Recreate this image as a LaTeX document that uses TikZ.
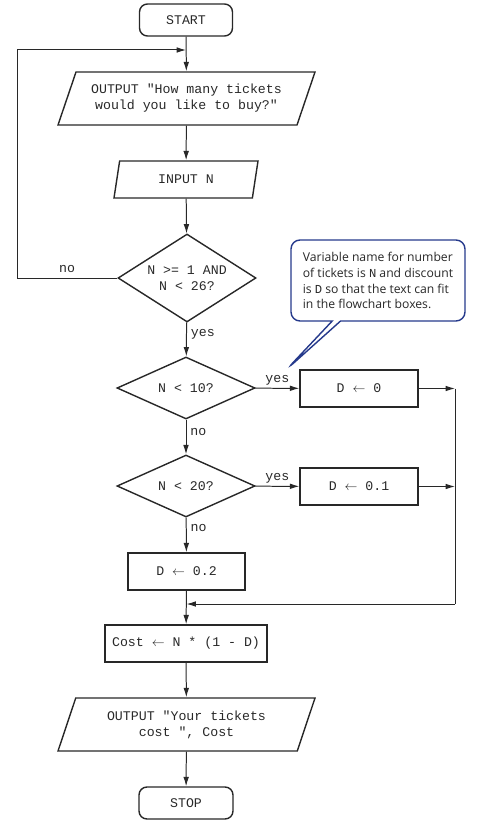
\documentclass[tikz,border=0pt]{standalone}
\usepackage{fontspec}
\setmonofont{Liberation Mono}
\newfontfamily\notefont{Open Sans}
\usetikzlibrary{shapes.geometric,shapes.callouts,arrows.meta}
\definecolor{ink}{RGB}{40,40,40}
\definecolor{noteblue}{RGB}{38,58,140}
\tikzset{
	every node/.style={font=\fontsize{11.3}{13.6}\selectfont\ttfamily, text=ink},
	terminal/.style={draw=ink, line width=1.2pt, rectangle, rounded corners=0.24cm, inner sep=0pt},
	process/.style={draw=ink, line width=1.2pt, rectangle, inner sep=0pt, minimum height=1.11cm},
	io/.style={draw=ink, line width=1.2pt, trapezium, trapezium left angle=57.5, trapezium right angle=122.5,
		trapezium stretches body, inner sep=0pt, align=center},
	decision/.style={draw=ink, line width=1.2pt, diamond, inner sep=0pt, minimum width=4.14cm, align=center},
	flow/.style={line width=0.85pt, draw=ink, >={Latex[length=8pt,width=4.8pt]}},
	note/.style={rectangle callout, draw=noteblue, line width=1.2pt, rounded corners=0.27cm, fill=white,
		inner sep=0pt, minimum width=5.22cm, minimum height=2.43cm, align=left,
		font=\notefont\fontsize{10.4}{13.6}\selectfont}
}
\begin{document}
\begin{tikzpicture}[x=0.03cm, y=-0.03cm]
	\useasboundingbox (0,0) rectangle (487,825);
	%%Kaesten
	\node[terminal, minimum width=2.79cm, minimum height=0.96cm] (start) at (186,20) {START};
	\node[io, minimum width=7.71cm, minimum height=1.59cm] (ask) at (186.5,98.5) {OUTPUT "How many tickets\\would you like to buy?"};
	\node[io, minimum width=4.32cm, minimum height=1.11cm] (input) at (186,179.5) {INPUT N};
	\node[decision, aspect=1.57, minimum height=2.64cm] (range) at (187,278) {N >= 1 AND\\N < 26?};
	\node[decision, aspect=2.2, minimum height=1.86cm] (ten) at (186,388) {N < 10?};
	\node[decision, aspect=2.2, minimum height=1.86cm] (twenty) at (186,486) {N < 20?};
	\node[process, minimum width=3.54cm] (dzero) at (359,388.5) {D $\leftarrow$ 0};
	\node[process, minimum width=3.54cm] (done) at (359,486.5) {D $\leftarrow$ 0.1};
	\node[process, minimum width=3.51cm] (dtwo) at (186.5,571.5) {D $\leftarrow$ 0.2};
	\node[process, minimum width=4.86cm] (cost) at (186,643.5) {Cost $\leftarrow$ N * (1 - D)};
	\node[io, minimum width=7.71cm, minimum height=1.59cm] (show) at (186.5,724.5) {OUTPUT "Your tickets\\cost ", Cost};
	\node[terminal, minimum width=2.82cm, minimum height=0.96cm] (stop) at (186,803) {STOP};
	%%Hilfspunkte
	\coordinate (loop) at (17,50);
	\coordinate (rail) at (455,604);
	%%Pfeile
	\draw[flow,->] (start) -- (ask);
	\draw[flow,->] (ask) -- (input);
	\draw[flow,->] (input) -- (range);
	\draw[flow,->] (range.west) -- node[above=1pt] {no} (range.west -| loop) -- (loop) -- (loop -| start.south);
	\draw[flow,->] (range) -- node[right, pos=0.35] {yes} (ten);
	\draw[flow,->] (ten) -- node[right, pos=0.36] {no} (twenty);
	\draw[flow,->] (twenty) -- node[right, pos=0.3] {no} (dtwo);
	\draw[flow,->] (ten) -- node[above=-1pt] {yes} (dzero);
	\draw[flow,->] (twenty) -- node[above=-1pt] {yes} (done);
	\draw[flow,->] (dzero) -- (dzero -| rail);
	\draw[flow,->] (done) -- (done -| rail);
	\draw[flow] (rail |- dzero) -- (rail);
	\draw[flow,->] (rail) -- (rail -| dtwo.south);
	\draw[flow,->] (dtwo) -- (cost);
	\draw[flow,->] (cost) -- (show);
	\draw[flow,->] (show) -- (stop);
	%%Hinweis
	\coordinate (tip) at (287,369);
	\node[note, callout absolute pointer={(tip)}] (hint) at (378,280.5)
		{Variable name for number\\of tickets is \texttt{N} and discount\\is \texttt{D} so that the text can fit\\in the flowchart boxes.};
\end{tikzpicture}
\end{document}
